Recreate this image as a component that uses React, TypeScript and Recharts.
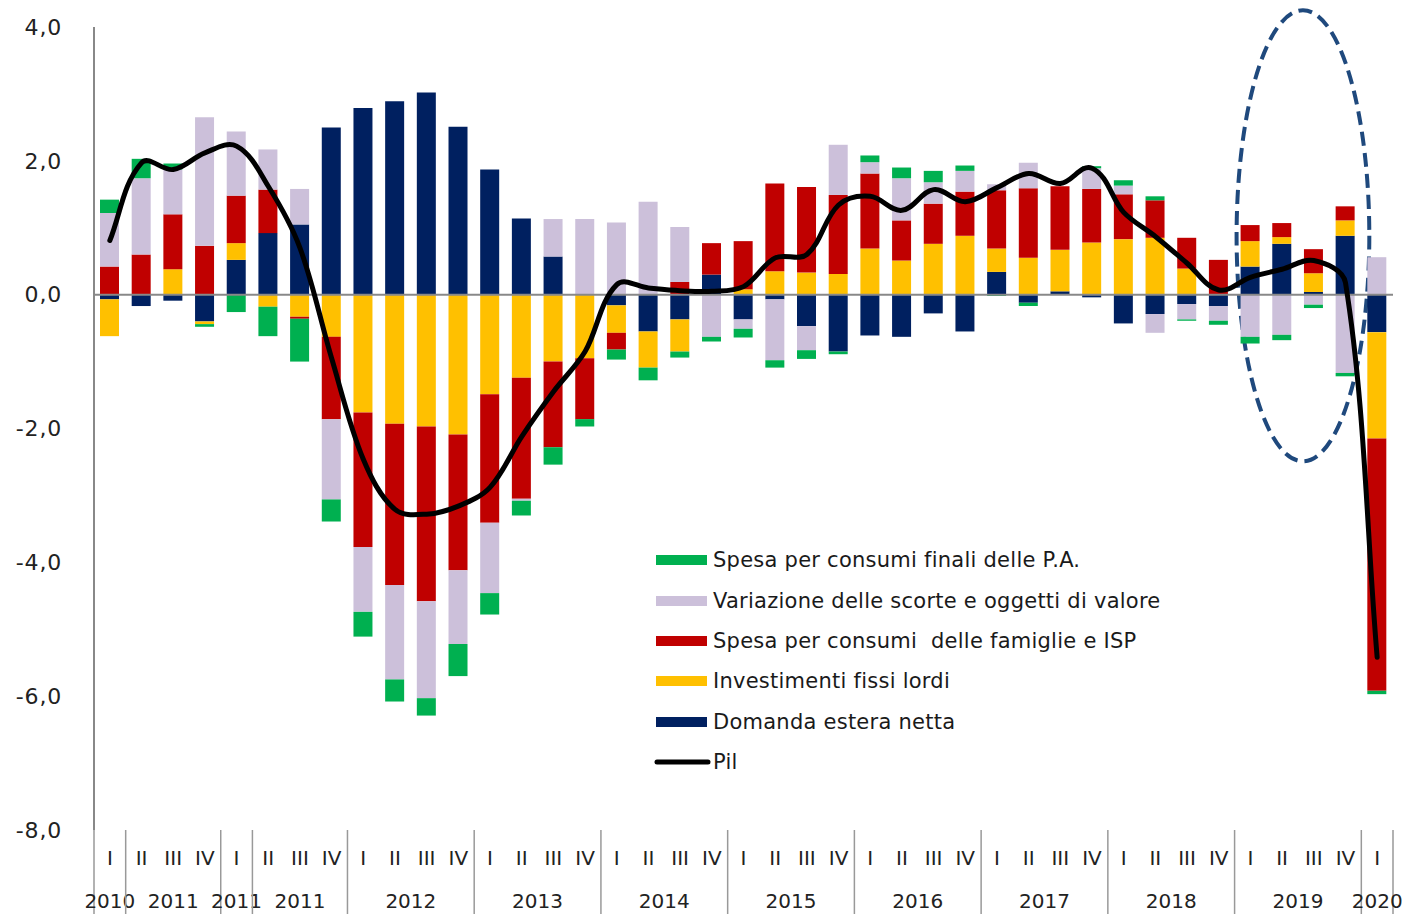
import React from 'react';
import {
  ComposedChart,
  Bar,
  Line,
  XAxis,
  YAxis,
  ReferenceLine,
  ReferenceArea,
  Legend,
} from 'recharts';

// ---------- DATA ----------
const quarterLabels = [
  'I', 'II', 'III', 'IV', 'I', 'II', 'III', 'IV',
  'I', 'II', 'III', 'IV', 'I', 'II', 'III', 'IV',
  'I', 'II', 'III', 'IV', 'I', 'II', 'III', 'IV',
  'I', 'II', 'III', 'IV', 'I', 'II', 'III', 'IV',
  'I', 'II', 'III', 'IV', 'I', 'II', 'III', 'IV',
  'I',
];

const yearGroups: [string, number][] = [
  ['2010', 1], ['2011', 3], ['2011', 1], ['2011', 3],
  ['2012', 4], ['2013', 4], ['2014', 4], ['2015', 4],
  ['2016', 4], ['2017', 4], ['2018', 4], ['2019', 4],
  ['2020', 1],
];

const domandaEsteraNetta = [
  -0.07, -0.17, -0.09, -0.40, 0.52, 0.92, 1.05, 2.50,
  2.79, 2.89, 3.02, 2.51, 1.87, 1.14, 0.57, 0,
  -0.16, -0.55, -0.37, 0.30, -0.37, -0.07, -0.47, -0.85,
  -0.61, -0.63, -0.28, -0.55, 0.34, -0.12, 0.05, -0.04,
  -0.43, -0.29, -0.14, -0.17, 0.42, 0.76, 0.04, 0.88,
  -0.56,
];

const investimentiFissiLordi = [
  -0.55, 0, 0.38, -0.04, 0.25, -0.18, -0.33, -0.63,
  -1.76, -1.93, -1.97, -2.09, -1.49, -1.24, -1.00, -0.95,
  -0.41, -0.54, -0.48, 0, 0.08, 0.35, 0.33, 0.31,
  0.69, 0.51, 0.76, 0.88, 0.35, 0.55, 0.62, 0.78,
  0.83, 0.85, 0.39, 0, 0.38, 0.10, 0.28, 0.23,
  -1.59,
];

const spesaFamiglie = [
  0.42, 0.60, 0.82, 0.73, 0.71, 0.65, -0.03, -1.23,
  -2.01, -2.41, -2.61, -2.03, -1.92, -1.81, -1.28, -0.91,
  -0.25, 0, 0.19, 0.47, 0.72, 1.31, 1.28, 1.18,
  1.12, 0.60, 0.60, 0.66, 0.87, 1.04, 0.95, 0.80,
  0.67, 0.56, 0.46, 0.52, 0.24, 0.21, 0.36, 0.21,
  -3.77,
];

const variazioneScorte = [
  0.80, 1.14, 0.67, 1.92, 0.96, 0.60, 0.53, -1.20,
  -0.97, -1.41, -1.45, -1.10, -1.05, -0.03, 0.56, 1.13,
  1.08, 1.39, 0.82, -0.63, -0.14, -0.91, -0.36, 0.75,
  0.17, 0.63, 0.32, 0.31, 0.09, 0.38, 0, 0.31,
  0.13, -0.28, -0.23, -0.22, -0.63, -0.60, -0.15, -1.17,
  0.56,
];

const spesaPA = [
  0.20, 0.29, 0.09, -0.04, -0.26, -0.44, -0.64, -0.33,
  -0.37, -0.33, -0.26, -0.48, -0.32, -0.22, -0.26, -0.11,
  -0.15, -0.19, -0.09, -0.07, -0.13, -0.11, -0.13, -0.04,
  0.10, 0.16, 0.17, 0.08, -0.02, -0.05, 0, 0.03,
  0.08, 0.06, -0.02, -0.06, -0.10, -0.08, -0.05, -0.05,
  -0.05,
];

const pil = [
  0.81, 1.97, 1.87, 2.12, 2.22, 1.62, 0.70, -0.95,
  -2.46, -3.21, -3.28, -3.16, -2.88, -2.12, -1.45, -0.85,
  0.15, 0.10, 0.06, 0.05, 0.12, 0.55, 0.60, 1.34,
  1.47, 1.26, 1.57, 1.39, 1.60, 1.81, 1.66, 1.89,
  1.23, 0.87, 0.47, 0.07, 0.26, 0.38, 0.51, 0.18,
  -5.42,
];

const yTicks = [4, 2, 0, -2, -4, -6, -8];

const seriesNames = {
  pa: 'Spesa per consumi finali delle P.A.',
  scorte: 'Variazione delle scorte e oggetti di valore',
  famiglie: 'Spesa per consumi  delle famiglie e ISP',
  invest: 'Investimenti fissi lordi',
  estera: 'Domanda estera netta',
  pil: 'Pil',
};

// ---------- STYLE / LAYOUT ----------
const FONT = '"DejaVu Sans", Verdana, sans-serif';
const COLORS = {
  pa: '#00B050',
  scorte: '#CCC0DA',
  famiglie: '#C00000',
  invest: '#FFC000',
  estera: '#002060',
  pil: '#000000',
};
const W = 1405;
const H = 914;
const PLOT_LEFT = 94;
const PLOT_RIGHT = 1393;
const N = quarterLabels.length;
const BW = (PLOT_RIGHT - PLOT_LEFT) / N;
const AX_H = 42;

// build rows
type Row = { [k: string]: any };
const rows: Row[] = [];
{
  let idx = 0;
  yearGroups.forEach(([label, size]) => {
    for (let j = 0; j < size; j++) {
      rows.push({
        key: 'c' + idx,
        q: quarterLabels[idx],
        groupStart: j === 0,
        groupLabel: label,
        groupSize: size,
        estera: domandaEsteraNetta[idx],
        invest: investimentiFissiLordi[idx],
        famiglie: spesaFamiglie[idx],
        scorte: variazioneScorte[idx],
        pa: spesaPA[idx],
        pil: pil[idx],
      });
      idx++;
    }
  });
}
const rowByKey: Record<string, Row> = {};
rows.forEach((r) => (rowByKey[r.key] = r));

// Excel-like smoothed curve: tangent direction from neighbours, control distance = chord/3
const smoothCurve = (context: any) => {
  let pts: number[][] = [];
  const unit = (a: number[], b: number[]) => {
    const dx = b[0] - a[0];
    const dy = b[1] - a[1];
    const l = Math.hypot(dx, dy) || 1;
    return [dx / l, dy / l];
  };
  return {
    areaStart() {},
    areaEnd() {},
    lineStart() {
      pts = [];
    },
    point(x: number, y: number) {
      pts.push([+x, +y]);
    },
    lineEnd() {
      const n = pts.length;
      if (!n) return;
      context.moveTo(pts[0][0], pts[0][1]);
      for (let i = 0; i < n - 1; i++) {
        const p0 = pts[Math.max(0, i - 1)];
        const p1 = pts[i];
        const p2 = pts[i + 1];
        const p3 = pts[Math.min(n - 1, i + 2)];
        const d = Math.hypot(p2[0] - p1[0], p2[1] - p1[1]) / 3;
        const t1 = unit(p0, p2);
        const t2 = unit(p1, p3);
        context.bezierCurveTo(
          p1[0] + t1[0] * d,
          p1[1] + t1[1] * d,
          p2[0] - t2[0] * d,
          p2[1] - t2[1] * d,
          p2[0],
          p2[1]
        );
      }
    },
  };
};

const QuarterTick = (props: any) => {
  const { x, y, payload } = props;
  const r = rowByKey[payload.value];
  if (!r) return null;
  return (
    <text x={x} y={y + 35} textAnchor="middle" fontSize={20} fill="#222" fontFamily={FONT}>
      {r.q}
    </text>
  );
};

const YearTick = (props: any) => {
  const { x, y, payload } = props;
  const r = rowByKey[payload.value];
  if (!r) return null;
  const isLast = r.key === rows[rows.length - 1].key;
  const x0 = x - BW / 2;
  return (
    <g>
      {r.groupStart && (
        <line x1={x0} x2={x0} y1={y - AX_H} y2={y + AX_H} stroke="#999" strokeWidth={1.5} />
      )}
      {isLast && (
        <line x1={x + BW / 2} x2={x + BW / 2} y1={y - AX_H} y2={y + AX_H} stroke="#999" strokeWidth={1.5} />
      )}
      {r.groupStart && (
        <text
          x={x0 + (r.groupSize * BW) / 2}
          y={y + 36}
          textAnchor="middle"
          fontSize={20}
          fill="#222"
          fontFamily={FONT}
        >
          {r.groupLabel}
        </text>
      )}
    </g>
  );
};

const legendItems = [
  { name: seriesNames.pa, color: COLORS.pa, line: false },
  { name: seriesNames.scorte, color: COLORS.scorte, line: false },
  { name: seriesNames.famiglie, color: COLORS.famiglie, line: false },
  { name: seriesNames.invest, color: COLORS.invest, line: false },
  { name: seriesNames.estera, color: COLORS.estera, line: false },
  { name: seriesNames.pil, color: COLORS.pil, line: true },
];

const renderLegend = () => (
  <div style={{ fontFamily: FONT, fontSize: 21, letterSpacing: 0.25, color: '#1a1a1a' }}>
    {legendItems.map((it, i) => (
      <div key={i} style={{ display: 'flex', alignItems: 'center', height: 40.4, whiteSpace: 'pre' }}>
        <svg width={59} height={12} style={{ flex: 'none' }}>
          {it.line ? (
            <line x1={3} x2={54} y1={6} y2={6} stroke={it.color} strokeWidth={5} strokeLinecap="round" />
          ) : (
            <rect x={2} y={1} width={51} height={10} fill={it.color} />
          )}
        </svg>
        <span>{it.name}</span>
      </div>
    ))}
  </div>
);

const EllipseShape = (props: any) => {
  const { x, y, width, height } = props;
  if (x == null || y == null) return null;
  return (
    <ellipse
      cx={x + width / 2 + 5}
      cy={y + height / 2}
      rx={width / 2 + 3}
      ry={Math.abs(height) / 2}
      fill="none"
      stroke="#1F497D"
      strokeWidth={4}
      strokeDasharray="14 7"
    />
  );
};

export default function App() {
  return (
    <div style={{ position: 'absolute', left: 0, top: 0, width: W, height: H, background: '#fff', fontFamily: FONT }}>
      <ComposedChart
        width={W}
        height={H}
        data={rows}
        margin={{ top: 27, right: W - PLOT_RIGHT, bottom: 0, left: 0 }}
        stackOffset="sign"
        barSize={19}
      >
        <XAxis
          dataKey="key"
          height={AX_H}
          axisLine={false}
          tickLine={false}
          tickSize={0}
          tickMargin={0}
          interval={0}
          tick={QuarterTick}
        />
        <XAxis
          xAxisId="yr"
          dataKey="key"
          height={AX_H}
          axisLine={false}
          tickLine={false}
          tickSize={0}
          tickMargin={0}
          interval={0}
          tick={YearTick}
        />
        <YAxis
          type="number"
          width={PLOT_LEFT}
          domain={[-8, 4]}
          ticks={yTicks}
          interval={0}
          tickLine={false}
          tickSize={0}
          tickMargin={32}
          axisLine={{ stroke: '#888', strokeWidth: 2 }}
          tick={{ fontSize: 22, fill: '#222', fontFamily: FONT, letterSpacing: 0.8 }}
          tickFormatter={(v: number) => v.toFixed(1).replace('.', ',')}
        />
        <Bar dataKey="estera" name={seriesNames.estera} stackId="s" fill={COLORS.estera} isAnimationActive={false} />
        <Bar dataKey="invest" name={seriesNames.invest} stackId="s" fill={COLORS.invest} isAnimationActive={false} />
        <Bar dataKey="famiglie" name={seriesNames.famiglie} stackId="s" fill={COLORS.famiglie} isAnimationActive={false} />
        <Bar dataKey="scorte" name={seriesNames.scorte} stackId="s" fill={COLORS.scorte} isAnimationActive={false} />
        <Bar dataKey="pa" name={seriesNames.pa} stackId="s" fill={COLORS.pa} isAnimationActive={false} />
        <ReferenceLine y={0} stroke="#888" strokeWidth={2} />
        <Line
          dataKey="pil"
          name={seriesNames.pil}
          type={smoothCurve as any}
          stroke={COLORS.pil}
          strokeWidth={5}
          dot={false}
          activeDot={false}
          strokeLinecap="round"
          isAnimationActive={false}
        />
        <ReferenceArea
          x1="c36"
          x2="c39"
          y1={-2.49}
          y2={4.25}
          ifOverflow="visible"
          shape={EllipseShape}
        />
        <Legend
          layout="vertical"
          align="center"
          verticalAlign="middle"
          content={renderLegend}
          wrapperStyle={{ position: 'absolute', left: 654, top: 540, width: 560 }}
        />
      </ComposedChart>
    </div>
  );
}
